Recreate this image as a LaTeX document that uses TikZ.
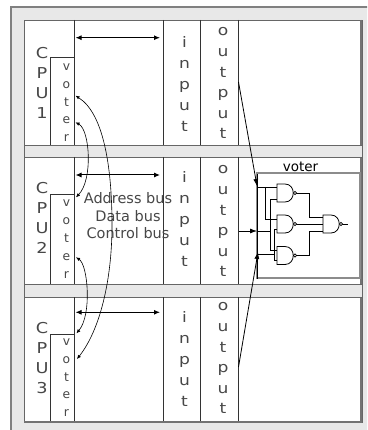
\documentclass[tikz,border=0pt]{standalone}
\usepackage{fontspec}
\setmainfont{DejaVu Sans}
\newfontfamily\widesans[FakeStretch=1.18]{DejaVu Sans}
\usetikzlibrary{arrows.meta}
\begin{document}
\begin{tikzpicture}[x=1pt,y=-1pt,
  colline/.style={draw=black!80, line width=0.9pt},
  lbl/.style={text=black!72, inner sep=0pt, align=center},
  cpufont/.style={font=\widesans\fontsize{15}{20}\selectfont},
  votfont/.style={font=\fontsize{12.3}{17.9}\selectfont},
  inpfont/.style={font=\widesans\fontsize{14.5}{20.85}\selectfont},
  outfont/.style={font=\widesans\fontsize{14.5}{20.6}\selectfont},
  busarrow/.style={{Latex[length=6pt,width=5pt]}-{Latex[length=6pt,width=5pt]}, line width=1pt},
  curvearrow/.style={{Latex[length=4pt,width=3.5pt]}-{Latex[length=4pt,width=3.5pt]}, line width=0.6pt},
  sigarrow/.style={-{Latex[length=7pt,width=5pt]}, line width=0.8pt},
  wire/.style={line width=0.7pt},
  gate/.style={draw, line width=0.8pt, fill=white},
  nandg/.pic={\draw[gate] (0,-9) -- (8,-9) .. controls (19,-9) and (19,9) .. (8,9) -- (0,9) -- cycle;
              \draw[line width=0.7pt, fill=white] (18,0) circle[radius=1.6];}
]
\useasboundingbox (0,0) rectangle (367,430);
\begin{scope}
\clip (0,0) rectangle (367,430);
% outer frame
\fill[black!9] (11,7) rectangle (370,433);
\draw[black!50, line width=1.6pt] (11,433) -- (11,7) -- (370,7);
% white panel
\draw[draw=black!60, line width=0.8pt, fill=white] (24,20) rectangle (362,422);
\draw[black!55, line width=2pt] (361,20) -- (361,421.5) -- (24,421.5);
% bands
\draw[fill=black!9, draw=black!60, line width=0.8pt] (24,145) rectangle (362,157);
\draw[fill=black!9, draw=black!60, line width=0.8pt] (24,284) rectangle (362,297);
\end{scope}

% column lines per row
\foreach \T/\B in {20/145, 157/284, 297/421} {
  \foreach \x in {74,163,200,238} {
    \draw[colline] (\x,\T) -- (\x,\B);
  }
  \draw[colline] (74,\T+37) -- (50,\T+37) -- (50,\B);
}

% bus double arrows
\coordinate (b1l) at (75.5,37.7);  \coordinate (b1r) at (160,37.7);
\coordinate (b2l) at (75.5,175);   \coordinate (b2r) at (160,175);
\coordinate (b3l) at (75.5,312.3); \coordinate (b3r) at (160,312.3);
\draw[busarrow] (b1l) -- (b1r);
\draw[busarrow] (b2l) -- (b2r);
\draw[busarrow] (b3l) -- (b3r);

% labels
\node[lbl, cpufont, anchor=north] (cpu1) at (42,46.7) {C\\P\\U\\1};
\node[lbl, cpufont, anchor=north] (cpu2) at (42,182.3) {C\\P\\U\\2};
\node[lbl, cpufont, anchor=north] (cpu3) at (42,321.7) {C\\P\\U\\3};
\node[lbl, votfont, anchor=north] (vot1) at (66.5,63.3) {v\\o\\t\\e\\r};
\node[lbl, votfont, anchor=north] (vot2) at (66.5,200) {v\\o\\t\\e\\r};
\node[lbl, votfont, anchor=north] (vot3) at (66.5,338.3) {v\\o\\t\\e\\r};
\node[lbl, inpfont, anchor=north] (in1) at (184.5,36.7) {i\\n\\p\\u\\t};
\node[lbl, inpfont, anchor=north] (in2) at (184.5,171.7) {i\\n\\p\\u\\t};
\node[lbl, inpfont, anchor=north] (in3) at (184.5,311.7) {i\\n\\p\\u\\t};
\node[lbl, outfont, anchor=north] (out1) at (223,27.5) {o\\u\\t\\p\\u\\t};
\node[lbl, outfont, anchor=north] (out2) at (223,165.5) {o\\u\\t\\p\\u\\t};
\node[lbl, outfont, anchor=north] (out3) at (223,302.5) {o\\u\\t\\p\\u\\t};
\node[lbl, font=\fontsize{14.5}{17.5}\selectfont, anchor=north] (bus) at (128,192.5) {Address bus\\Data bus\\Control bus};
\node[inner sep=0pt, font=\fontsize{13.5}{16}\selectfont, anchor=base] (vlabel) at (300.5,171.7) {voter};

% voter interconnect curves
\coordinate (v1a) at (75.5,95.7);
\coordinate (v1b) at (75.5,122.3);
\coordinate (v2a) at (76,197.3);
\coordinate (v2b) at (76,257.3);
\coordinate (v3a) at (76.5,333.3);
\coordinate (v3b) at (77,359);
\draw[curvearrow] (v1a) .. controls (103,113) and (112,165) .. (112,225)
                        .. controls (112,280) and (100,330) .. (v3b);
\draw[curvearrow] (v1b) .. controls (90,130) and (93,180) .. (v2a);
\draw[curvearrow] (v2b) .. controls (88,265) and (92,315) .. (v3a);

% voter circuit box
\draw[black!45, line width=1.5pt] (257,173) rectangle (360,278);
\draw[black, line width=0.8pt] (257,174) -- (257,279);

% signals from outputs
\coordinate (o1) at (238.5,82);  \coordinate (s1) at (257,186);
\coordinate (o2) at (238.5,231); \coordinate (s2) at (257,231);
\coordinate (o3) at (238.5,367); \coordinate (s3) at (258,252);
\draw[sigarrow] (o1) -- (s1);
\draw[sigarrow] (o2) -- (s2);
\draw[sigarrow] (o3) -- (s3);

% input wiring
\draw[wire] (257,187) -- (277,187);
\draw[wire] (265,187) -- (265,219) -- (277,219);
\draw[wire] (257,231) -- (270,231);
\draw[wire] (277,199) -- (270,199) -- (270,250.5) -- (277,250.5);
\draw[wire] (257,254) -- (274,254);
\draw[wire] (277,229) -- (274,229) -- (274,260.5) -- (277,260.5);

% output wiring
\draw[wire] (296,193) -- (309,193) -- (309,217) -- (323,217);
\draw[wire] (296,224) -- (323,224);
\draw[wire] (296,255.5) -- (309,255.5) -- (309,231) -- (323,231);
\draw[wire] (342,224) -- (348,224);

% gates
\pic at (277,193) {nandg};
\pic at (277,224) {nandg};
\pic at (277,255.5) {nandg};
\pic at (323,224) {nandg};
\end{tikzpicture}
\end{document}
